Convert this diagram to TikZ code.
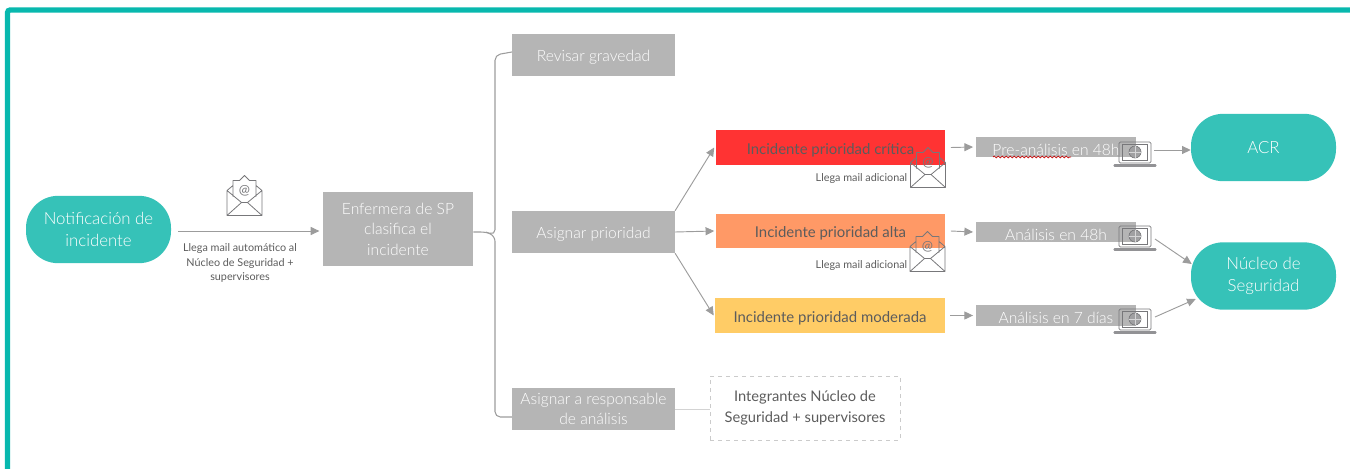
\documentclass[tikz,border=0pt]{standalone}
\usepackage{fontspec}
\setmainfont{Lato}
\newfontfamily\ligero{Lato Light}
\usetikzlibrary{arrows.meta}
\usetikzlibrary{decorations.pathmorphing}
\definecolor{turquesa}{HTML}{36C2B8}
\definecolor{marco}{HTML}{08B8AE}
\definecolor{gris}{HTML}{B5B5B5}
\definecolor{linea}{HTML}{9C9C9C}
\definecolor{icono}{HTML}{77777A}
\definecolor{texto}{HTML}{5C5C5C}
\tikzset{
bajar/.style={execute at begin node={\rule{0pt}{1.05em}}},
pill/.style={rectangle, rounded corners=24pt, fill=turquesa, text=white, align=center, inner sep=0pt, minimum width=108.75pt, minimum height=50.5pt, font=\ligero\fontsize{12.6}{16.8}\selectfont},
graybox/.style={rectangle, bajar, fill=gris, text=white, align=center, inner sep=0pt, font=\ligero\fontsize{11.7}{15.4}\selectfont},
prio/.style={rectangle, bajar, text=texto, inner sep=0pt, minimum width=172pt, minimum height=26pt, font=\fontsize{11.2}{15}\selectfont},
small/.style={rectangle, bajar, text=texto, align=center, inner sep=0pt, font=\fontsize{8.1}{11.2}\selectfont},
flecha/.style={-{Triangle[length=6.5pt, width=6pt]}, draw=linea, line width=0.7pt},
mail/.pic={
\draw[icono, line width=0.6pt, line join=round]
(-17.5,-5) -- (-17.5,20) -- (17.5,20) -- (17.5,-5)
(-17.5,-5) -- (-11.5,-10) (17.5,-5) -- (11.5,-10)
(-17.5,-5) -- (-3,7) -- (3,7) -- (17.5,-5)
(-17.5,20) -- (-3,7) (17.5,20) -- (3,7)
(-11.5,1) -- (-11.5,-15) -- (-5,-15) -- (0,-20) -- (5,-15) -- (11.5,-15) -- (11.5,1);
\node[text=icono, inner sep=0pt, font=\fontsize{10}{10}\selectfont] (-arroba) at (0,-5) {@};
},
laptop/.pic={
\draw[icono, line width=0.6pt, rounded corners=1pt] (-16,-13) rectangle (16,8);
\draw[icono, line width=0.6pt] (-12.5,-11) rectangle (12.5,5);
\draw[icono, line width=0.5pt, fill=icono!70] (0,-3) circle (6);
\draw[white!70!icono, line width=0.3pt] (-6,-3) -- (6,-3) (0,-9) -- (0,3);
\draw[icono!80, line width=1.6pt, line cap=round] (-20.5,10.5) -- (20.5,10.5);
}
}
\begin{document}
\begin{tikzpicture}[x=0.75pt, y=-0.75pt]
\useasboundingbox (0,0) rectangle (1350,468);
\draw[marco, line width=4pt, rounded corners=2pt] (7.5,470) -- (7.5,10) -- (1352,10);

\node [pill] (noti) at (98.5,229.5) {Notificación de\\incidente};
\node [graybox, minimum width=112.5pt, minimum height=55.5pt] (enfermera) at (398,229) {Enfermera de SP\\clasifica el\\incidente};
\node [graybox, minimum width=122pt, minimum height=31.5pt] (revisar) at (593.5,55) {Revisar gravedad};
\node [graybox, minimum width=122pt, minimum height=31.5pt] (asignar) at (593.5,232) {Asignar prioridad};
\node [graybox, minimum width=122pt, minimum height=31.5pt] (responsable) at (593.5,409) {Asignar a responsable\\de análisis};
\node [prio, fill={rgb,255:red,255;green,51;blue,51}] (critica) at (830.5,147.5) {Incidente prioridad crítica};
\node [prio, fill={rgb,255:red,255;green,153;blue,102}] (alta) at (830.5,231) {Incidente prioridad alta};
\node [prio, fill={rgb,255:red,255;green,204;blue,102}] (moderada) at (830,315.5) {Incidente prioridad moderada};
\node [graybox, minimum width=120pt, minimum height=15.5pt] (pre) at (1056,147) {Pre-análisis en 48h};
\node [graybox, minimum width=120pt, minimum height=15.5pt] (analisis) at (1056,232) {Análisis en 48h};
\node [graybox, minimum width=120pt, minimum height=15.5pt] (siete) at (1056,315.5) {Análisis en 7 días};
\node [pill] (acr) at (1263.5,147.5) {ACR};
\node [pill] (nucleo) at (1263.5,276) {Núcleo de\\Seguridad};
\node [rectangle, bajar, draw=gris!70, dashed, line width=0.7pt, text=texto, align=center, inner sep=0pt, minimum width=142.5pt, minimum height=48pt, font=\fontsize{11}{15.5}\selectfont] (integrantes) at (805,408) {Integrantes Núcleo de\\Seguridad + supervisores};
\node [small] (llega) at (240,263) {Llega mail automático al\\Núcleo de Seguridad +\\supervisores};
\node [small] (adicionalA) at (861.5,177) {Llega mail adicional};
\node [small] (adicionalB) at (861.5,264) {Llega mail adicional};

\pic (mailA) at (244.5,195.5) {mail};
\pic (mailB) at (928,167.5) {mail};
\pic (mailC) at (927.5,251.5) {mail};
\pic (lapA) at (1135,155) {laptop};
\pic (lapB) at (1135,239) {laptop};
\pic (lapC) at (1135,322) {laptop};

\coordinate (lapAout) at (1154,150);
\coordinate (lapBout) at (1155,239);
\coordinate (lapCout) at (1155,317);

\draw[red!80!black, line width=0.5pt, decorate, decoration={snake, amplitude=0.7pt, segment length=3pt}] (993,157) -- (1071,157);

\draw[flecha] (noti.east) ++(7,1.5) -- ([xshift=-2.5]enfermera.west |- 0,231);
\draw[linea, line width=0.8pt, rounded corners=4pt] (enfermera.east |- 0,232) -- (486,232) -- (495,235) -- (495,55) -- (revisar.west |- 0,52);
\draw[linea, line width=0.8pt, rounded corners=4pt] (486,232) -- (495,236) -- (495,417) -- (responsable.west |- 0,417);
\draw[flecha] (asignar.north east) -- ([xshift=-1]critica.west);
\draw[flecha] (asignar.east) -- ([xshift=-1]alta.west);
\draw[flecha] (asignar.south east) -- ([xshift=-1]moderada.west);
\draw[flecha] ([xshift=4]critica.east) -- ([xshift=-2]pre.west);
\draw[flecha] ([xshift=4]alta.east) -- ([xshift=-2]analisis.west);
\draw[flecha] ([xshift=4]moderada.east) -- ([xshift=-2]siete.west);
\draw[flecha] (lapAout) -- (acr.west |- lapAout);
\draw[flecha] (lapBout) -- ([shift={(1,-12)}]nucleo.west);
\draw[flecha] (lapCout) -- ([shift={(5,23)}]nucleo.west);
\draw[gris!60, line width=0.7pt] (responsable.east) -- (integrantes.west |- responsable.east);
\end{tikzpicture}
\end{document}
